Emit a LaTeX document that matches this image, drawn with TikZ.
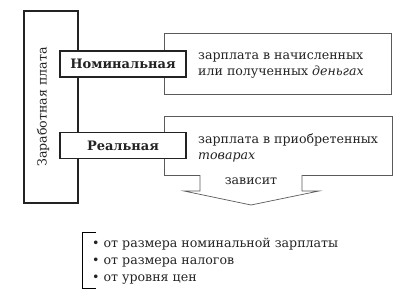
\documentclass[tikz,border=0pt]{standalone}
\usepackage{fontspec}
\setmainfont{DejaVu Serif}
\definecolor{ink}{RGB}{35,35,35}
\definecolor{thin}{RGB}{90,90,90}
\begin{document}
\begin{tikzpicture}[x=1pt,y=-1pt,
  txt/.style={font=\fontsize{12.6}{16}\selectfont, text=ink, inner sep=0pt},
  outerbox/.style={draw=ink, line width=1.3pt},
  kindbox/.style={draw=ink, line width=1.6pt, fill=white, minimum width=126pt, minimum height=26pt, inner sep=0pt, font=\fontsize{13}{16}\selectfont\bfseries, text=ink},
  descbox/.style={draw=thin, line width=0.7pt, fill=white},
  arrowshape/.style={draw=thin, line width=0.7pt, fill=white}]
\useasboundingbox (0,0) rectangle (420,306);
% tall left box
\draw[outerbox] (24,11) rectangle (78,203);
\node[txt, rotate=90] (zp) at (43,107) {Заработная плата};
% description boxes
\draw[descbox] (164,33) rectangle (391,94);
\node[txt, anchor=west, align=left] (d1) at (198,66) {зарплата в начисленных\\или полученных \textit{деньгах}};
\draw[descbox] (164,116) rectangle (392,175);
\node[txt, anchor=west, align=left] (d2) at (198,148) {зарплата в приобретенных\\\textit{товарах}};
% kind boxes
\node[kindbox] (nom) at (123,64) {Номинальная};
\node[kindbox] (real) at (123,145.5) {Реальная};
% arrow
\coordinate (a1) at (200,175);
\coordinate (a2) at (302,175);
\draw[arrowshape] (a1) -- (200,191) -- (184,191) -- (251,205) -- (319,191) -- (302,191) -- (a2);
\node[txt] (dep) at (251,181) {зависит};
% bracket list
\coordinate (b1) at (96,232);
\coordinate (b2) at (96,288);
\draw[thin, line width=0.8pt] (b1) -- (82,232) -- (82,288) -- (b2);
\node[txt, anchor=west, align=left, font=\fontsize{12.6}{17}\selectfont] (list) at (92,261)
  {\textbullet\ от размера номинальной зарплаты\\\textbullet\ от размера налогов\\\textbullet\ от уровня цен};
\end{tikzpicture}
\end{document}
